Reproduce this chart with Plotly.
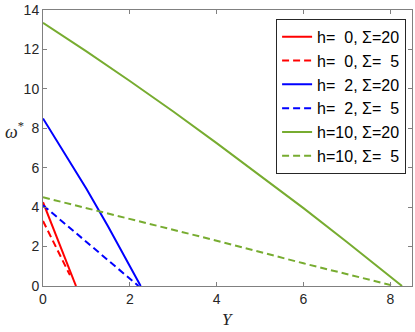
import plotly.graph_objects as go

y_h0_s20 = [0.0, 0.76]
w_h0_s20 = [4.25, 0.0]

y_h0_s5 = [0.0, 0.3, 0.62]
w_h0_s5 = [3.3, 1.95, 0.55]

y_h2_s20 = [0.0, 0.5, 1.0, 1.5, 2.0, 2.25]
w_h2_s20 = [8.5, 6.75, 4.93, 3.02, 1.02, 0.0]

y_h2_s5 = [0.0, 0.8, 1.5, 2.2]
w_h2_s5 = [4.1, 2.62, 1.3, 0.0]

y_h10_s20 = [0.0, 1.0, 2.0, 3.0, 4.0, 5.0, 6.0, 7.0, 8.0, 8.27]
w_h10_s20 = [13.35, 11.9, 10.4, 8.85, 7.25, 5.62, 3.95, 2.23, 0.47, 0.0]

y_h10_s5 = [0.0, 2.0, 4.0, 6.0, 8.1]
w_h10_s5 = [4.5, 3.4, 2.3, 1.15, 0.0]

x_ticks = [0, 2, 4, 6, 8]
y_ticks = [0, 2, 4, 6, 8, 10, 12, 14]

nb = "\u00a0"
series = [
    (y_h0_s20, w_h0_s20, f"h={nb}{nb}0, Σ=20", "#ff0000", "solid"),
    (y_h0_s5, w_h0_s5, f"h={nb}{nb}0, Σ={nb}{nb}5", "#ff0000", "7px,4px"),
    (y_h2_s20, w_h2_s20, f"h={nb}{nb}2, Σ=20", "#0000ff", "solid"),
    (y_h2_s5, w_h2_s5, f"h={nb}{nb}2, Σ={nb}{nb}5", "#0000ff", "7px,4px"),
    (y_h10_s20, w_h10_s20, "h=10, Σ=20", "#77ac30", "solid"),
    (y_h10_s5, w_h10_s5, f"h=10, Σ={nb}{nb}5", "#77ac30", "7px,4px"),
]

fig = go.Figure()
for xs, ys, name, color, dash in series:
    fig.add_trace(go.Scatter(
        x=xs, y=ys, mode="lines", name=name,
        line=dict(color=color, width=2, dash=dash),
    ))

axis_style = dict(
    showgrid=False, zeroline=False, showline=True, mirror="ticks",
    linecolor="#808080", linewidth=1,
    ticks="inside", ticklen=4, tickcolor="#808080",
    tickfont=dict(family="Liberation Sans, Arial", size=14, color="#262626"),
)

fig.update_layout(
    width=415, height=332,
    margin=dict(l=43, r=2, t=6, b=46),
    plot_bgcolor="white", paper_bgcolor="white",
    xaxis=dict(range=[0, 8.5], tickvals=x_ticks, **axis_style),
    yaxis=dict(range=[0, 14.001], tickvals=y_ticks, ticktext=[str(t) for t in y_ticks],
               ticklabeloverflow="allow", **axis_style),
    legend=dict(
        x=0.984, y=0.968, xanchor="right", yanchor="top",
        bgcolor="white", bordercolor="#262626", borderwidth=1,
        font=dict(family="Liberation Sans, Arial", size=16, color="black"),
        itemwidth=30, tracegroupgap=0,
    ),
    showlegend=True,
)

fig.add_annotation(
    text="<i>ω</i><sup>*</sup>", xref="paper", yref="paper",
    x=-0.078, y=0.564, showarrow=False, xanchor="center", yanchor="middle",
    font=dict(family="Liberation Serif", size=18, color="#262626"),
)
fig.add_annotation(
    text="<i>Y</i>", xref="paper", yref="paper",
    x=0.5, y=-0.12, showarrow=False, xanchor="center", yanchor="middle",
    font=dict(family="Liberation Serif", size=17, color="#262626"),
)

# drop the default 8px page margin so the figure sits at the window corner
fig.write_html("out.html", config={"displayModeBar": False},
               post_script="document.body.style.margin='0';")
